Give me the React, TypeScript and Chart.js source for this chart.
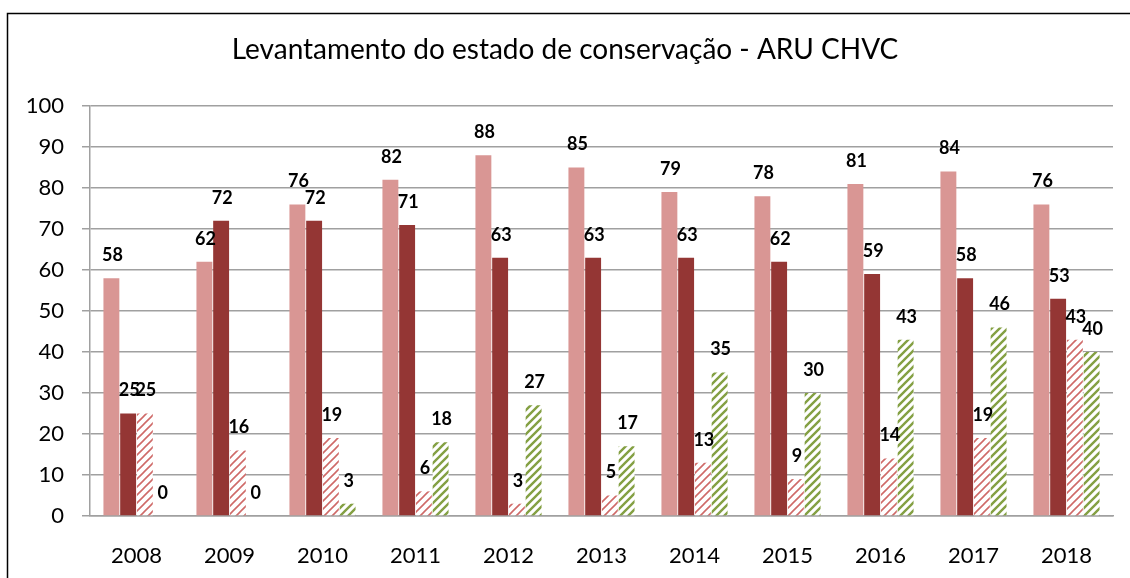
import React, { useEffect, useRef } from "react";
import { Chart, registerables } from "chart.js";

Chart.register(...registerables);

const years = ["2008", "2009", "2010", "2011", "2012", "2013", "2014", "2015", "2016", "2017", "2018"];
const seriesA = [58, 62, 76, 82, 88, 85, 79, 78, 81, 84, 76];
const seriesB = [25, 72, 72, 71, 63, 63, 63, 62, 59, 58, 53];
const seriesC = [25, 16, 19, 6, 3, 5, 13, 9, 14, 19, 43];
const seriesD = [0, 0, 3, 18, 27, 17, 35, 30, 43, 46, 40];
const titleText = "Levantamento do estado de conservação - ARU CHVC";

function makePattern(color: string, lw: number): CanvasPattern | string {
  const c = document.createElement("canvas");
  c.width = 8;
  c.height = 8;
  const g = c.getContext("2d");
  if (!g) return color;
  g.fillStyle = "#ffffff";
  g.fillRect(0, 0, 8, 8);
  g.strokeStyle = color;
  g.lineWidth = lw;
  g.beginPath();
  g.moveTo(-2, 10);
  g.lineTo(10, -2);
  g.moveTo(-6, 6);
  g.lineTo(6, -6);
  g.moveTo(2, 14);
  g.lineTo(14, 2);
  g.stroke();
  const p = g.createPattern(c, "repeat");
  return p || color;
}

const framePlugin = {
  id: "frame",
  beforeDraw(chart: any) {
    const ctx = chart.ctx;
    ctx.save();
    ctx.fillStyle = "#ffffff";
    ctx.fillRect(0, 0, chart.width, chart.height);
    ctx.strokeStyle = "#000000";
    ctx.lineWidth = 1.5;
    ctx.strokeRect(7.5, 13.5, 2000, 2000);
    ctx.fillStyle = "#000000";
    ctx.font = "28px Lato";
    ctx.textAlign = "center";
    ctx.textBaseline = "middle";
    ctx.fillText(titleText, 565, 50);
    ctx.restore();
  },
};

const labelPlugin = {
  id: "valueLabels",
  afterDatasetsDraw(chart: any) {
    const ctx = chart.ctx;
    ctx.save();
    ctx.fillStyle = "#000000";
    ctx.font = "bold 18px Lato";
    ctx.textAlign = "center";
    ctx.textBaseline = "middle";
    chart.data.datasets.forEach((ds: any, i: number) => {
      const meta = chart.getDatasetMeta(i);
      meta.data.forEach((el: any, j: number) => {
        ctx.fillText(String(ds.data[j]), el.x + 1, el.y - 23);
      });
    });
    ctx.restore();
  },
};

export default function App() {
  const ref = useRef<HTMLCanvasElement | null>(null);
  useEffect(() => {
    if (!ref.current) return;
    const redHatch = makePattern("#cf6a68", 1.6);
    const greenHatch = makePattern("#84a043", 2.4);
    const chart = new Chart(ref.current, {
      type: "bar",
      data: {
        labels: years,
        datasets: [
          { label: "A", data: seriesA, backgroundColor: "#d99694" },
          { label: "B", data: seriesB, backgroundColor: "#943634" },
          { label: "C", data: seriesC, backgroundColor: redHatch as any },
          { label: "D", data: seriesD, backgroundColor: greenHatch as any },
        ],
      },
      options: {
        responsive: false,
        animation: false,
        layout: { padding: { top: 106, right: 17, left: 0, bottom: 0 } },
        datasets: { bar: { categoryPercentage: 0.72, barPercentage: 0.95 } },
        plugins: {
          legend: { display: false },
          title: { display: false },
          tooltip: { enabled: false },
        },
        scales: {
          x: {
            grid: { display: false, drawTicks: false },
            border: { display: true, color: "#a0a0a0", width: 1.5 },
            ticks: { color: "#000", font: { family: "Lato", size: 22 }, padding: 27 },
            afterFit(scale: any) {
              scale.height = 62;
            },
          },
          y: {
            min: 0,
            max: 100,
            ticks: { stepSize: 10, color: "#000", font: { family: "Lato", size: 22 }, padding: 18 },
            grid: { color: "#a0a0a0", lineWidth: 1.5, tickLength: 8, drawTicks: true },
            border: { display: true, color: "#a0a0a0", width: 1.5 },
            afterFit(scale: any) {
              scale.width = 90;
            },
          },
        },
      },
      plugins: [framePlugin, labelPlugin],
    });
    return () => chart.destroy();
  }, []);
  return (
    <div style={{ position: "fixed", left: 0, top: 0, width: 1130, height: 578, background: "#fff" }}>
      <canvas ref={ref} width={1130} height={578} style={{ display: "block" }} />
    </div>
  );
}
